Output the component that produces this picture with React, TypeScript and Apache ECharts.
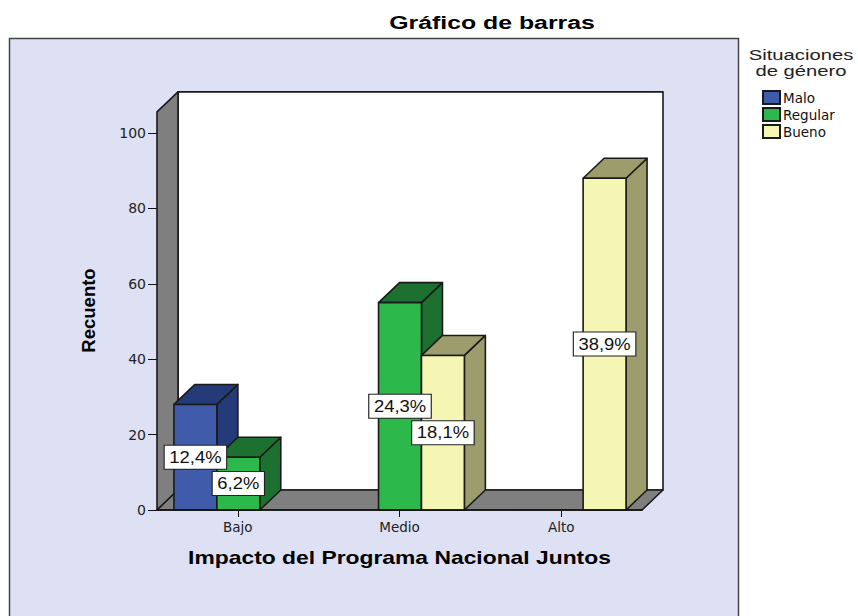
import React, { useEffect, useRef } from "react";
import * as echarts from "echarts";

const categories = ["Bajo", "Medio", "Alto"];
const seriesNames = ["Malo", "Regular", "Bueno"];
const malo = [28, null, null];
const regular = [14, 55, null];
const bueno = [null, 41, 88];
const maloLabels = ["12,4%", "", ""];
const regularLabels = ["6,2%", "24,3%", ""];
const buenoLabels = ["", "18,1%", "38,9%"];
const yTicks = { min: 0, max: 100, interval: 20 };
const wallTop = 105.6;

const allValues = [malo, regular, bueno];
const allLabels = [maloLabels, regularLabels, buenoLabels];
const faces = [
  { front: "#3F5BAA", side: "#253A78" },
  { front: "#2DB84B", side: "#1C7030" },
  { front: "#F5F5B4", side: "#9C9C6C" },
];
const DX = 21;
const DY = -20;
const FONT = "Liberation Sans";
const TICK_FONT = "DejaVu Sans";

function poly(points: number[][], fill: string, stroke = "#1a1a1a", lineWidth = 1.6) {
  return { type: "polygon", shape: { points }, style: { fill, stroke, lineWidth, lineJoin: "round" } };
}

function barGeom(api: any, s: number) {
  const cat = api.value(0);
  const val = api.value(1);
  const band = api.size([1, 0])[0];
  const w = (band * 43) / 162;
  const base = api.coord([cat, 0]);
  const top = api.coord([cat, val]);
  const x0 = base[0] + (s - 1) * w - w / 2 + 0.5;
  return { x0, x1: x0 + w, y0: base[1], y1: top[1], mid: (base[1] + top[1]) / 2, cx: x0 + w / 2, w };
}

const barSeries = seriesNames.map((name, s) => ({
  type: "custom",
  name,
  z: 3 + s,
  itemStyle: { color: faces[s].front, borderColor: "#1a1a1a", borderWidth: 1 },
  encode: { x: 0, y: 1 },
  data: allValues[s].map((v, i) => (v == null ? null : [i, v])).filter(Boolean),
  renderItem: (_: any, api: any) => {
    const g = barGeom(api, s);
    const c = faces[s];
    return {
      type: "group",
      children: [
        poly([[g.x1, g.y0], [g.x1 + DX, g.y0 + DY], [g.x1 + DX, g.y1 + DY], [g.x1, g.y1]], c.side),
        poly([[g.x0, g.y1], [g.x0 + DX, g.y1 + DY], [g.x1 + DX, g.y1 + DY], [g.x1, g.y1]], c.side),
        poly([[g.x0, g.y0], [g.x1, g.y0], [g.x1, g.y1], [g.x0, g.y1]], c.front),
      ],
    };
  },
}));

const labelRows: { s: number; text: string; cat: number; value: number }[] = [];
allLabels.forEach((row, s) =>
  row.forEach((text, cat) => {
    const value = allValues[s][cat];
    if (text && value != null) labelRows.push({ s, text, cat, value });
  })
);

const labelSeries = {
  type: "custom",
  z: 10,
  silent: true,
  encode: { x: 0, y: 1 },
  data: labelRows.map((r) => [r.cat, r.value]),
  renderItem: (params: any, api: any) => {
    const r = labelRows[params.dataIndex];
    const g = barGeom(api, r.s);
    return {
      type: "text",
      z2: 10,
      x: g.cx,
      y: g.mid,
      scaleX: 1.15,
      style: {
        text: r.text,
        x: 0,
        y: 0,
        align: "center",
        verticalAlign: "middle",
        font: `16px "${FONT}"`,
        fill: "#111",
        backgroundColor: "#fff",
        borderColor: "#222",
        borderWidth: 1,
        padding: [4, 4, 3, 4],
      },
    };
  },
};

const wallSeries = {
  type: "custom",
  z: 1,
  silent: true,
  encode: { x: 0, y: 1 },
  data: [[0, wallTop]],
  renderItem: (_: any, api: any) => {
    const band = api.size([1, 0])[0];
    const left = api.coord([0, 0])[0] - band / 2;
    const right = left + band * categories.length;
    const bottom = api.coord([0, 0])[1];
    const top = api.coord([0, api.value(1)])[1];
    const wall = "#7F7F7F";
    return {
      type: "group",
      children: [
        poly([[left + DX, bottom + DY], [right + DX, bottom + DY], [right + DX, top + DY], [left + DX, top + DY]], "#fff"),
        poly([[left, bottom], [left + DX, bottom + DY], [left + DX, top + DY], [left, top]], wall),
        poly([[left, bottom], [right, bottom], [right + DX, bottom + DY], [left + DX, bottom + DY]], wall),
      ],
    };
  },
};

export default function App() {
  const ref = useRef<HTMLDivElement>(null);
  useEffect(() => {
    const chart = echarts.init(ref.current!, undefined, { renderer: "svg" });
    chart.setOption({
      animation: false,
      backgroundColor: "#fff",
      textStyle: { fontFamily: FONT },
      grid: { left: 157, top: 133, width: 485, height: 377, containLabel: false },
      legend: {
        show: true,
        data: seriesNames,
        orient: "vertical",
        left: 762,
        top: 90,
        icon: "rect",
        itemWidth: 17,
        itemHeight: 13,
        itemGap: 2,
        selectedMode: false,
        padding: 0,
        textStyle: { fontFamily: TICK_FONT, fontSize: 13.5, color: "#111", padding: [0, 0, 0, -2] },
      },
      xAxis: {
        type: "category",
        data: categories,
        z: 6,
        axisLine: { show: true, lineStyle: { color: "#111", width: 1.5 } },
        axisTick: { show: true, alignWithLabel: true, length: 7, lineStyle: { color: "#111" } },
        axisLabel: { fontFamily: TICK_FONT, fontSize: 13.5, color: "#222", margin: 10 },
        splitLine: { show: false },
      },
      yAxis: {
        type: "value",
        min: yTicks.min,
        max: yTicks.max,
        interval: yTicks.interval,
        z: 6,
        name: "Recuento",
        nameLocation: "middle",
        nameGap: 59,
        nameTextStyle: { fontFamily: FONT, fontWeight: "bold", fontSize: 18.5, color: "#000", padding: [0, 0, 0, 22] },
        axisLine: { show: false },
        axisTick: { show: true, length: 9, lineStyle: { color: "#111" } },
        axisLabel: { fontFamily: TICK_FONT, fontSize: 14, color: "#222", margin: 11 },
        splitLine: { show: false },
      },
      graphic: [
        {
          type: "rect",
          z: -10,
          silent: true,
          shape: { x: 9.5, y: 38.5, width: 729, height: 600 },
          style: { fill: "#DEE0F3", stroke: "#444", lineWidth: 1.5 },
        },
        {
          type: "text",
          z: 5,
          silent: true,
          x: 492,
          y: 23,
          scaleX: 1.38,
          style: {
            text: "Gráfico de barras",
            x: 0,
            y: 0,
            align: "center",
            verticalAlign: "middle",
            font: `bold 18px "${FONT}"`,
            fill: "#000",
          },
        },
        {
          type: "text",
          z: 5,
          silent: true,
          x: 399.5,
          y: 557,
          scaleX: 1.27,
          style: {
            text: "Impacto del Programa Nacional Juntos",
            x: 0,
            y: 0,
            align: "center",
            verticalAlign: "middle",
            font: `bold 18px "${FONT}"`,
            fill: "#000",
          },
        },
        {
          type: "text",
          z: 5,
          silent: true,
          x: 801,
          y: 63,
          scaleX: 1.35,
          style: {
            text: "Situaciones\nde género",
            x: 0,
            y: 0,
            align: "center",
            verticalAlign: "middle",
            font: `15px "${FONT}"`,
            lineHeight: 16,
            fill: "#222",
          },
        },
      ],
      series: [wallSeries, ...barSeries, labelSeries],
    });
    return () => chart.dispose();
  }, []);
  return <div ref={ref} style={{ position: "fixed", left: 0, top: 0, width: 858, height: 616 }} />;
}
